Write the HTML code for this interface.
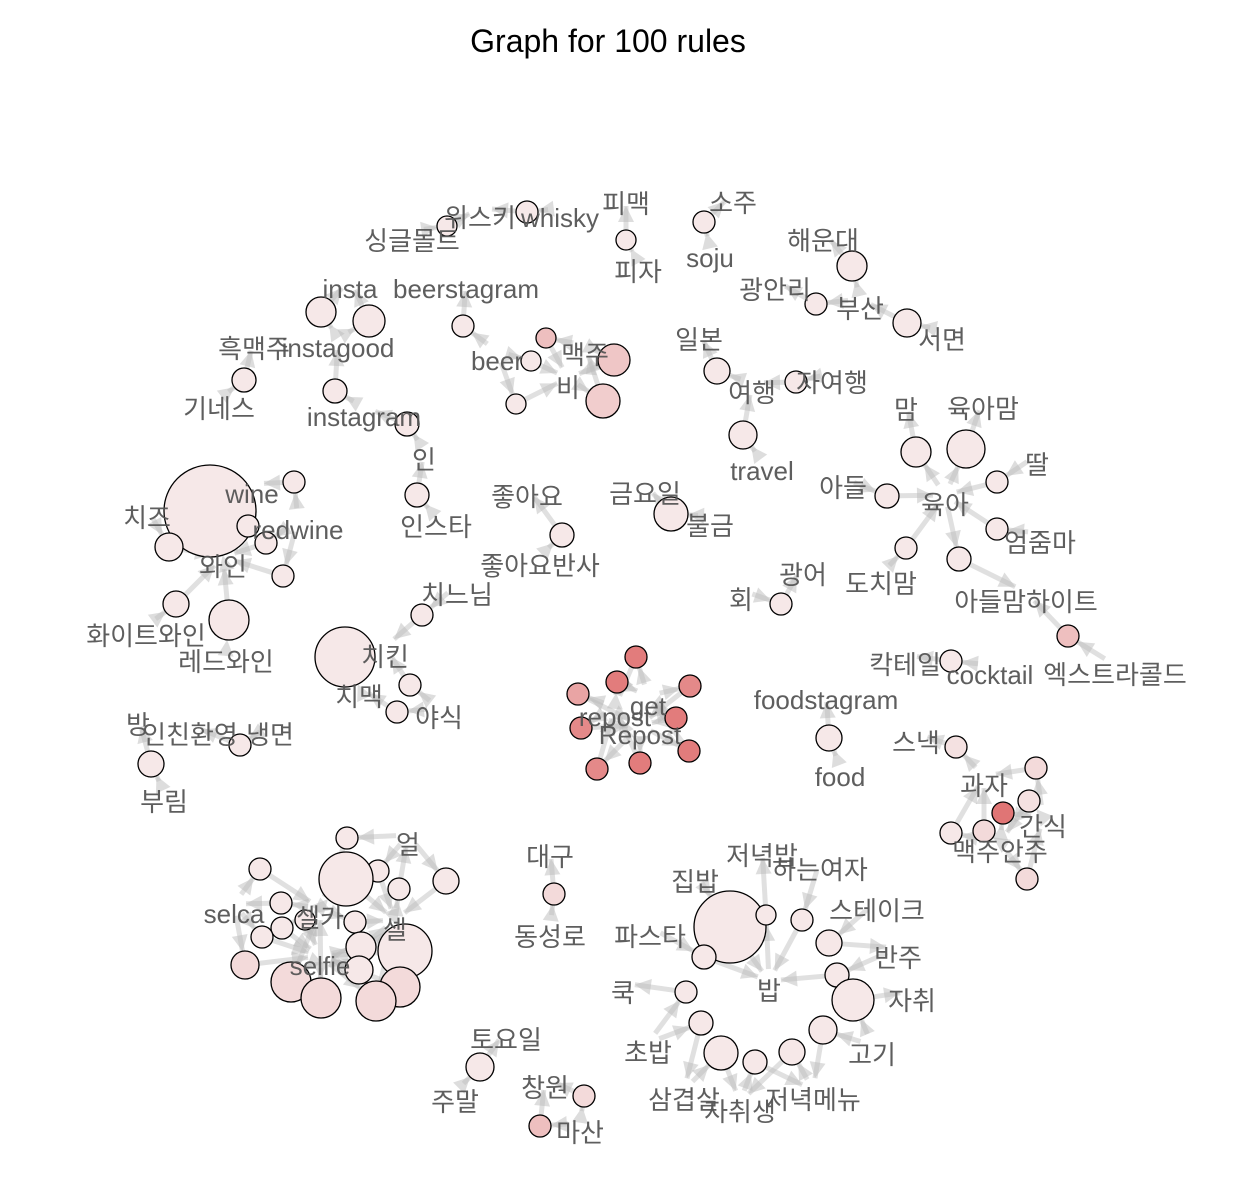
<!DOCTYPE html>
<html><head><meta charset="utf-8">
<style>
body{margin:0;background:#fff;}
svg{display:block;}
text{font-family:"Liberation Sans","Noto Sans CJK KR","NanumGothic",sans-serif;}
</style></head>
<body>
<svg id="chart" width="1248" height="1194" viewBox="0 0 1248 1194">
<text x="608" y="52" text-anchor="middle" font-size="32" fill="#000">Graph for 100 rules</text>
<g id="edges"></g>
<g id="rules"></g>
<g id="items"></g>
</svg>
<script>
// rule circles: x, y, radius (support), lift level 0..1
const ruleX=[447,527,626,704,852,816,907,321,369,463,546,531,614,603,516,244,335,407,717,796,743,916,966,997,887,997,906,959,417,294,210,248,266,169,283,176,229,562,671,422,345,410,397,781,1068,951,636,617,690,578,676,581,689,640,597,829,956,240,151,1036,1029,1003,984,951,1027,347,260,378,346,399,446,281,305,355,282,262,361,405,245,359,291,321,400,376,554,730,766,802,829,704,837,853,686,701,823,721,792,755,480,584,540];
const ruleY=[226,212,240,222,266,304,323,312,321,326,338,361,360,401,404,380,391,424,371,382,435,452,449,482,496,529,548,559,495,482,511,526,543,547,576,604,620,535,514,615,657,685,712,604,636,661,657,682,686,694,718,728,751,763,769,738,747,745,764,768,801,813,831,833,879,838,869,871,879,889,881,903,920,922,928,937,947,951,965,970,982,998,987,1001,894,927,915,920,943,957,975,1000,992,1023,1030,1053,1052,1062,1067,1096,1126];
const ruleR=[10,11,10,11,15,11,14,15,16,11,10,10,16,17,10,12,12,12,13,11,14,15,19,11,12,11,11,12,12,11,46,11,11,14,11,13,20,12,17,11,30,11,11,11,11,11,11,11,11,11,11,11,11,11,11,13,11,11,13,11,11,11,11,11,11,11,11,11,27,11,13,11,10,11,11,11,15,27,14,14,20,20,20,20,11,36,10,11,13,12,12,21,11,12,14,17,13,12,14,11,11];
const ruleLift=[0.1,0.1,0.1,0.1,0.1,0.1,0.1,0.1,0.1,0.1,0.4,0.1,0.35,0.3,0.1,0.1,0.1,0.1,0.1,0.1,0.1,0.1,0.1,0.1,0.1,0.1,0.1,0.1,0.1,0.1,0.1,0.1,0.1,0.1,0.1,0.1,0.1,0.1,0.1,0.1,0.1,0.1,0.1,0.1,0.4,0.1,0.9,0.9,0.8,0.6,0.9,0.8,0.9,0.9,0.8,0.1,0.15,0.1,0.1,0.2,0.15,0.95,0.2,0.1,0.2,0.1,0.1,0.1,0.1,0.1,0.1,0.1,0.1,0.1,0.1,0.1,0.1,0.1,0.2,0.1,0.2,0.2,0.2,0.2,0.2,0.1,0.1,0.1,0.1,0.1,0.1,0.1,0.1,0.1,0.1,0.1,0.1,0.1,0.1,0.2,0.4];
// item labels
const itemText=["위스키","whisky","피맥","소주","싱글몰트","피자","soju","해운대","광안리","부산","서면","insta","beerstagram","흑맥주","instagood","beer","맥주","비","일본","여행","자여행","기네스","instagram","맘","육아맘","인","travel","딸","아들","육아","wine","치즈","redwine","인스타","좋아요","금요일","불금","엄줌마","와인","좋아요반사","광어","도치맘","아들맘하이트","회","치느님","화이트와인","레드와인","치킨","칵테일","cocktail","엑스트라콜드","치맥","get","foodstagram","repost","야식","Repost","방","인친환영","냉면","스낵","food","부림","과자","간식","맥주안주","얼","대구","저녁밥","하는여자","집밥","selca","셀카","셀","스테이크","동성로","파스타","반주","selfie","쿡","밥","자취","토요일","초밥","고기","창원","주말","삼겹살","저녁메뉴","자취생","마산"];
const itemX=[480,560,626,733,412,638,710,823,775,860,942,350,466,254,338,497,585,568,699,752,832,219,364,906,983,424,762,1037,843,945,252,147,298,436,527,645,710,1040,223,540,803,881,1026,741,457,146,226,385,905,990,1115,359,648,826,615,439,640,138,190,270,916,840,164,984,1043,1000,408,550,762,820,695,234,320,395,877,550,650,898,320,623,769,912,506,648,872,545,455,684,813,740,580];
const itemY=[218,218,204,203,241,272,258,241,290,309,340,289,289,349,348,361,355,388,340,393,383,409,417,410,409,460,471,465,488,505,494,518,530,527,497,494,526,543,567,566,575,584,602,600,595,636,662,657,665,675,675,697,706,700,717,718,735,725,735,735,743,777,802,786,827,852,845,857,856,870,882,914,918,930,911,937,937,958,966,993,991,1001,1040,1053,1055,1088,1102,1100,1100,1112,1133];

const NS="http://www.w3.org/2000/svg";
const gE=document.getElementById('edges'),gR=document.getElementById('rules'),gI=document.getElementById('items');
function mk(t,a){const e=document.createElementNS(NS,t);for(const k in a)e.setAttribute(k,a[k]);return e;}
ruleX.forEach((x,i)=>{
  const y=ruleY[i];
  const d=itemX.map((ix,j)=>[Math.hypot(ix-x,itemY[j]-10-y),j]).sort((a,b)=>a[0]-b[0]).slice(0,2);
  d.forEach(([dist,j],k)=>{
    const lx=itemX[j],ly=itemY[j]-10;
    const ux=(x-lx)/(dist||1),uy=(y-ly)/(dist||1);
    const ex=x-ux*ruleR[i],ey=y-uy*ruleR[i];
    const sx=lx+ux*12,sy=ly+uy*12;
    const l=mk('line',{x1:sx,y1:sy,x2:ex,y2:ey,stroke:'#bbb','stroke-width':5,'stroke-opacity':0.45});
    
    
    gE.appendChild(l);
    const ax=k==0?ex:sx,ay=k==0?ey:sy,dx=k==0?ux:-ux,dy=k==0?uy:-uy;
    const p=mk('polygon',{points:`${ax},${ay} ${ax-dx*16-dy*8},${ay-dy*16+dx*8} ${ax-dx*16+dy*8},${ay-dy*16-dx*8}`,fill:'#bbb','fill-opacity':0.5});
    
    
    gE.appendChild(p);
  });
});
ruleX.forEach((x,i)=>{
  const t=ruleLift[i];
  const r=Math.round(248-t*25),g=Math.round(245-t*135),b=Math.round(245-t*135);
  const c=mk('circle',{cx:x,cy:ruleY[i],r:ruleR[i],fill:`rgb(${r},${g},${b})`,stroke:'#000','stroke-width':1.3});
  
  
  gR.appendChild(c);
});
itemText.forEach((s,j)=>{
  const t=mk('text',{x:itemX[j],y:itemY[j]+9,'text-anchor':'middle','font-size':26,fill:'#555','fill-opacity':0.95});
  t.textContent=s;
  
  
  gI.appendChild(t);
});
</script>
</body></html>
